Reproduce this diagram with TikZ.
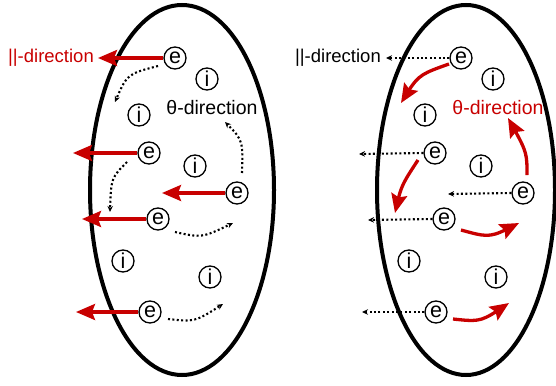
\documentclass[tikz,border=0pt]{standalone}
\usepackage{fontspec}
\setmainfont{Liberation Sans}
\usetikzlibrary{arrows.meta,bending}
\definecolor{myred}{RGB}{200,0,0}
\tikzset{
  particle/.style={circle,draw,line width=1.3pt,inner sep=0pt,minimum size=22pt,font=\fontsize{21.5}{22}\selectfont},
  lbl/.style={inner sep=0pt,font=\fontsize{18.5}{19}\selectfont},
  thlbl/.style={inner sep=0pt,font=\fontsize{19.5}{20}\selectfont},
  bigarrow/.style={myred,line width=3.3pt,-{Stealth[length=19pt,width=16pt,inset=3pt]}},
  bentarrow/.style={myred,line width=3.3pt,-{Stealth[length=19pt,width=16pt,inset=3pt,flex]}},
  dotarrow/.style={black,line width=2.1pt,dash pattern=on 2pt off 2.4pt,-{Stealth[length=6pt,width=5.5pt]}},
  shell/.style={line width=4pt}
}
\begin{document}
\begin{tikzpicture}[x=1pt,y=-1pt]
\useasboundingbox (0,0) rectangle (556,385);
% ---------------- left panel ----------------
\draw[shell] (182,190) ellipse [x radius=92, y radius=185];
\node[particle] (Le1) at (175,58) {e};
\node[particle] (Li1) at (207,79) {i};
\node[particle] (Li2) at (139,115) {i};
\node[particle] (Le2) at (149,153) {e};
\node[particle] (Li3) at (195,166) {i};
\node[particle] (Le3) at (237,193) {e};
\node[particle] (Le4) at (158,219) {e};
\node[particle] (Li4) at (123,261) {i};
\node[particle] (Li5) at (210,277) {i};
\node[particle] (Le5) at (150,312) {e};
\node[lbl,text=myred,anchor=east] (Lpar) at (94,58) {||-direction};
\node[thlbl] (Lth) at (212,108) {θ-direction};
\coordinate (Lt1) at (98,58);
\coordinate (Lt2) at (73,153);
\coordinate (Lt3) at (162,193);
\coordinate (Lt4) at (82,219);
\coordinate (Lt5) at (76,312);
\draw[bigarrow] (Le1.west) -- (Lt1);
\draw[bigarrow] (Le2.west) -- (Lt2);
\draw[bigarrow] (Le3.west) -- (Lt3);
\draw[bigarrow] (Le4.west) -- (Lt4);
\draw[bigarrow] (Le5.west) -- (Lt5);
\coordinate (Ls1) at (158,66);  \coordinate (Lf1) at (115,102);
\coordinate (Ls2) at (127,162); \coordinate (Lf2) at (110,212);
\coordinate (Ls3) at (242,173); \coordinate (Lf3) at (225,122);
\coordinate (Ls4) at (175,232); \coordinate (Lf4) at (233,223);
\coordinate (Ls5) at (168,319); \coordinate (Lf5) at (223,304);
\draw[dotarrow] (Ls1) .. controls (127,74) .. (Lf1);
\draw[dotarrow] (Ls2) .. controls (111,178) .. (Lf2);
\draw[dotarrow] (Ls3) .. controls (243,140) .. (Lf3);
\draw[dotarrow] (Ls4) .. controls (202,238) .. (Lf4);
\draw[dotarrow] (Ls5) .. controls (195,322) .. (Lf5);
% ---------------- right panel ----------------
\draw[shell] (466,190) ellipse [x radius=89, y radius=185];
\begin{scope}[xshift=286pt]
\node[particle] (Re1) at (175,58) {e};
\node[particle] (Ri1) at (207,79) {i};
\node[particle] (Ri2) at (139,115) {i};
\node[particle] (Re2) at (149,153) {e};
\node[particle] (Ri3) at (195,166) {i};
\node[particle] (Re3) at (237,193) {e};
\node[particle] (Re4) at (158,219) {e};
\node[particle] (Ri4) at (123,261) {i};
\node[particle] (Ri5) at (210,277) {i};
\node[particle] (Re5) at (150,312) {e};
\node[lbl,anchor=east] (Rpar) at (95,58) {||-direction};
\node[thlbl,text=myred] (Rth) at (212,108) {θ-direction};
\coordinate (Rt1) at (100,58);
\coordinate (Rt2) at (73,154);
\coordinate (Rt3) at (162,194);
\coordinate (Rt4) at (82,220);
\coordinate (Rt5) at (76,312);
\draw[dotarrow] (Re1.west) -- (Rt1);
\draw[dotarrow] (Re2.west) -- (Rt2);
\draw[dotarrow] (Re3.west) -- (Rt3);
\draw[dotarrow] (Re4.west) -- (Rt4);
\draw[dotarrow] (Re5.west) -- (Rt5);
\coordinate (Rs1) at (163,64);  \coordinate (Rf1) at (115,103);
\coordinate (Rs2) at (132,160); \coordinate (Rf2) at (109,213);
\coordinate (Rs3) at (241,175); \coordinate (Rf3) at (222,118);
\coordinate (Rs4) at (175,230); \coordinate (Rf4) at (233,223);
\coordinate (Rs5) at (167,319); \coordinate (Rf5) at (223,303);
\draw[bentarrow] (Rs1) .. controls (132,75) .. (Rf1);
\draw[bentarrow] (Rs2) .. controls (115,186) .. (Rf2);
\draw[bentarrow] (Rs3) .. controls (241,152) .. (Rf3);
\draw[bentarrow] (Rs4) .. controls (204,238) .. (Rf4);
\draw[bentarrow] (Rs5) .. controls (195,322) .. (Rf5);
\end{scope}
\end{tikzpicture}
\end{document}
